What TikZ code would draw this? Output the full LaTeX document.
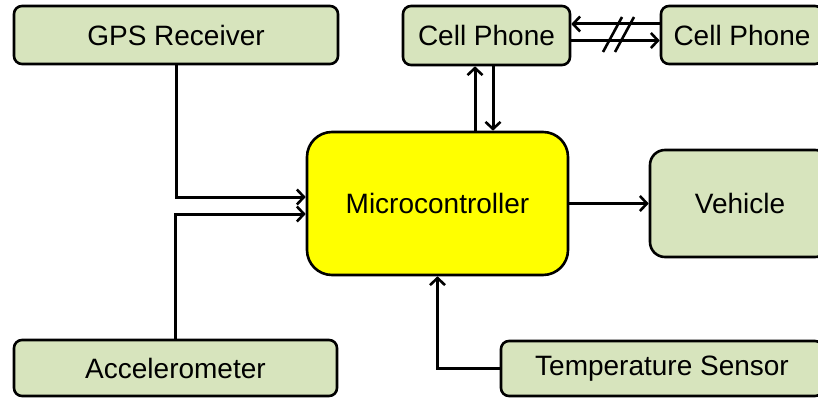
\documentclass[tikz,border=0pt]{standalone}
\usepackage{fontspec}
\setmainfont{Liberation Sans}
\usetikzlibrary{arrows.meta}
\definecolor{boxgreen}{HTML}{D7E4BD}
\definecolor{mcuyellow}{HTML}{FFFF00}
\tikzset{
  box/.style={draw=black, line width=2.6pt, fill=boxgreen, rounded corners=8pt,
    inner sep=0pt, align=center, font=\fontsize{28}{32}\selectfont},
  mcu/.style={box, fill=mcuyellow, rounded corners=25pt},
  conn/.style={line width=3pt, black},
  arr/.style={conn, -{Straight Barb[length=7pt,width=15pt,line width=2.6pt]}}
}
\begin{document}
\begin{tikzpicture}[x=1pt, y=-1pt]
\useasboundingbox (0,0) rectangle (818,398);
\fill[white] (0,0) rectangle (818,398);

% blocks
\node[box, minimum width=324pt, minimum height=58pt] (gps) at (176,35) {GPS Receiver};
\node[box, minimum width=167pt, minimum height=59pt] (cellA) at (486.5,35.5) {Cell Phone};
\node[box, minimum width=162pt, minimum height=58pt] (cellB) at (742,35) {Cell Phone};
\node[mcu, minimum width=261pt, minimum height=143pt] (mcu) at (437.5,203.5) {Microcontroller};
\node[box, rounded corners=15pt, minimum width=180pt, minimum height=107pt] (veh) at (740,203.5) {Vehicle};
\node[box, minimum width=323pt, minimum height=56pt] (acc) at (175.5,368) {Accelerometer};
\node[box, minimum width=322pt, minimum height=55pt] (temp) at (662,368.5) {Temperature Sensor};

% sensor inputs
\draw[arr] (gps.south) |- ([yshift=6.5pt]mcu.west);
\draw[arr] (acc.north) |- ([yshift=-10.5pt]mcu.west);
\draw[arr] (temp.west) -| (mcu.south);

% output to the vehicle
\draw[arr] (mcu.east) -- (veh.west);

% link to the local phone
\draw[arr] ([xshift=37.5pt]mcu.north) -- ([xshift=37.5pt]mcu.north |- cellA.south);
\draw[arr] ([xshift=6.5pt]cellA.south) -- ([xshift=6.5pt]cellA.south |- mcu.north);

% wireless link between the phones
\draw[arr] ([yshift=11pt]cellB.west) -- ([yshift=11pt]cellB.west -| cellA.east);
\draw[arr] ([yshift=-5pt]cellA.east) -- ([yshift=-5pt]cellA.east -| cellB.west);
\coordinate (s1a) at (603,52); \coordinate (s1b) at (622,17);
\coordinate (s2a) at (615,52); \coordinate (s2b) at (634,17);
\draw[conn, line width=2.6pt] (s1a) -- (s1b);
\draw[conn, line width=2.6pt] (s2a) -- (s2b);
\end{tikzpicture}
\end{document}
